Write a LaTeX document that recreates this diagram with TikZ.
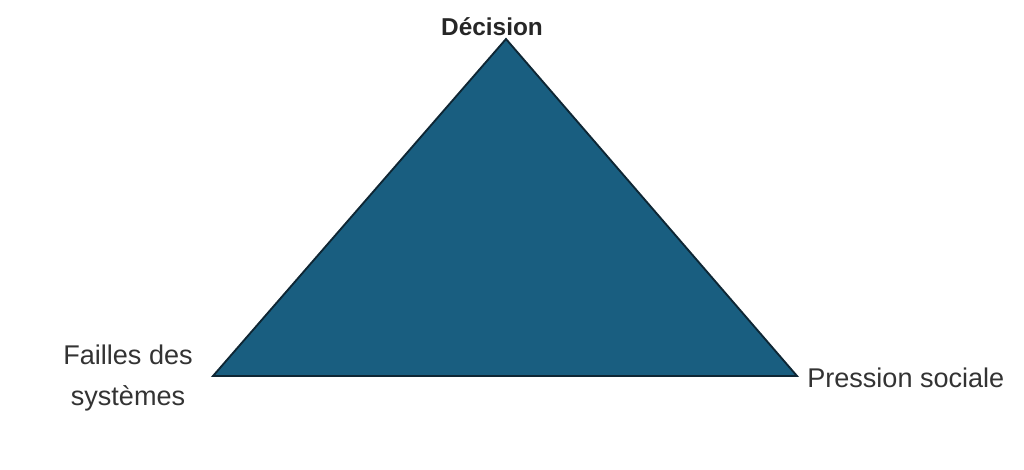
\documentclass[tikz,border=0pt]{standalone}
\usepackage{fontspec}
\setmainfont{Liberation Sans}
\usetikzlibrary{positioning}
\definecolor{tealblue}{RGB}{25,94,128}
\definecolor{edgeblue}{RGB}{14,38,52}
\tikzset{
  cornerlabel/.style={font=\fontsize{20.3}{31}\selectfont, text=black!80, inner sep=0pt, align=center},
  toplabel/.style={font=\fontsize{18.3}{22}\selectfont\bfseries, text=black!85, inner sep=0pt}
}
\begin{document}
\begin{tikzpicture}[x=0.75pt,y=-0.75pt]
    \useasboundingbox (0,0) rectangle (1024,470);
    % Sommets du triangle
    \coordinate (sommet) at (506,39);
    \coordinate (gauche) at (213,376);
    \coordinate (droite) at (797,376);
    
    % Triangle
    \draw[fill=tealblue, draw=edgeblue, line width=1.4pt, line join=miter] (sommet) -- (gauche) -- (droite) -- cycle;
    
    % Etiquettes
    \node[toplabel] (decision) at (492,27) {Décision};
    \node[cornerlabel] (failles) at (128,378) {Failles des\\systèmes};
    \node[cornerlabel, anchor=west] (pression) at (807,378) {Pression sociale};
\end{tikzpicture}
\end{document}
